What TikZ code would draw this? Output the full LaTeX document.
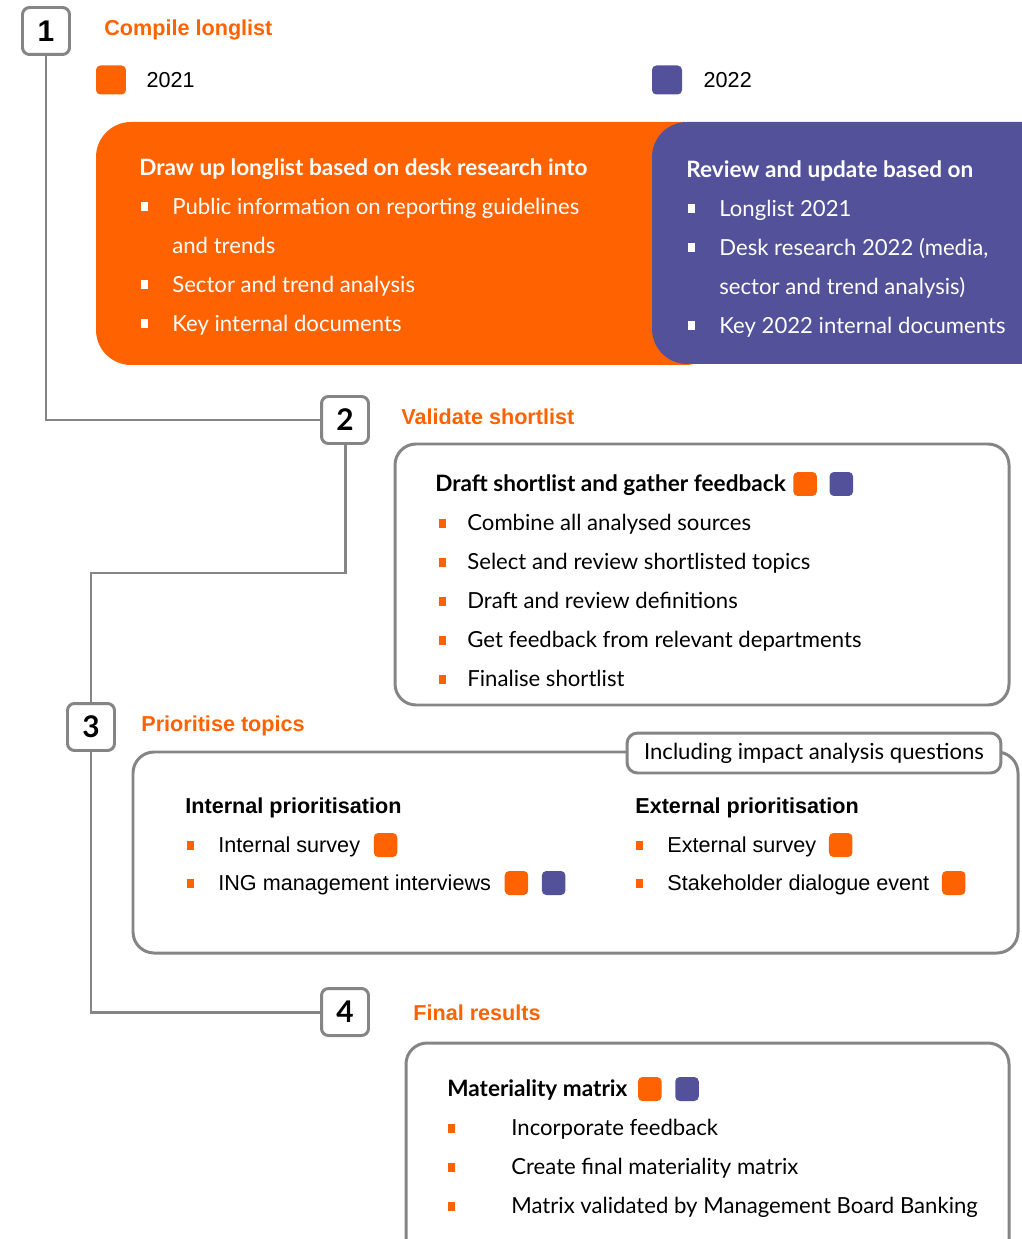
\documentclass[tikz,border=0pt]{standalone}
\usepackage{fontspec}
\setmainfont{Liberation Sans}
\newfontfamily\ingfont{Lato}
\usepackage{xcolor}
\usepackage{tikz}
\usetikzlibrary{positioning}
\definecolor{ingorange}{HTML}{FF6200}
\definecolor{ingpurple}{HTML}{525199}
\definecolor{linegray}{HTML}{858585}
\begin{document}
\begin{tikzpicture}[x=0.02cm, y=-0.02cm,
                    every node/.append style = {inner sep=0pt, font=\fontsize{12.3}{14}\selectfont},
                    stepno/.style = {draw=linegray, line width=1.7pt, rounded corners=4pt, fill=white,
                                     minimum size=0.94cm, font=\fontsize{17}{20}\selectfont\bfseries},
                    link/.style = {draw=linegray, line width=1.7pt},
                    panel/.style = {draw=linegray, line width=1.7pt, rounded corners=12pt},
                    plain/.style = {anchor=west, text height=1.0em, text depth=0.2em},
                    heading/.style = {plain, text=ingorange, font=\fontsize{12.3}{14}\selectfont\bfseries},
                    item/.style = {plain, font=\ingfont\fontsize{12.6}{14}\selectfont},
                    itemhead/.style = {plain, font=\ingfont\fontsize{12.85}{14}\selectfont\bfseries},
                    chip/.style = {fill=#1, rounded corners=2.5pt, minimum width=0.47cm, minimum height=0.48cm},
                    blt/.style = {fill=#1, minimum width=0.14cm, minimum height=0.18cm}]
    \useasboundingbox (0,0) rectangle (1021,1239);

    % step numbers and the line between them
    \node[stepno] (n1) at (46,31) {1};
    \node[stepno, font=\ingfont\fontsize{17}{20}\selectfont\bfseries] (n2) at (345,420) {2};
    \node[stepno, font=\ingfont\fontsize{17}{20}\selectfont\bfseries] (n3) at (91,727) {3};
    \node[stepno, font=\ingfont\fontsize{17}{20}\selectfont\bfseries] (n4) at (345,1012) {4};
    \coordinate (k2) at (91,573);
    \draw[link] (n1.south) |- (n2.west);
    \draw[link] (n2.south) |- (k2) -- (n3.north);
    \draw[link] (n3.south) |- (n4.west);

    \node[heading] (h1) at (104,28) {Compile longlist};
    \node[heading] (h2) at (401,417) {Validate shortlist};
    \node[heading] (h3) at (141,724) {Prioritise topics};
    \node[heading] (h4) at (413,1013) {Final results};

    % step 1
    \node[chip=ingorange, minimum width=0.6cm, minimum height=0.58cm] (c21) at (111,80) {};
    \node[plain, right=0.4cm of c21] (y21) {2021};
    \node[chip=ingpurple, minimum width=0.6cm, minimum height=0.58cm] (c22) at (667,80) {};
    \node[plain, right=0.42cm of c22] (y22) {2022};
    \fill[ingorange, rounded corners=20pt] (96,122) rectangle (720,365);
    \fill[ingpurple, rounded corners=20pt] (652,122) rectangle (1060,364);
    \node[itemhead, text=white] (o0) at (139,168) {Draw up longlist based on desk research into};
    \foreach \t [count=\i] in {Public information on reporting guidelines, and trends,
                               Sector and trend analysis, Key internal documents}
        \node[item, text=white] (o\i) at (172,168+39*\i) {\t};
    \foreach \i in {1,3,4}
        \node[blt=white] at (144,168+39*\i) {};
    \node[itemhead, text=white] (p0) at (686,170) {Review and update based on};
    \foreach \t [count=\i] in {Longlist 2021, {Desk research 2022 (media,},
                               sector and trend analysis), Key 2022 internal documents}
        \node[item, text=white] (p\i) at (719,170+39*\i) {\t};
    \foreach \i in {1,2,4}
        \node[blt=white] at (691,170+39*\i) {};

    % step 2
    \draw[panel] (395,444) rectangle (1009,705);
    \node[itemhead] (s0) at (435,484) {Draft shortlist and gather feedback};
    \node[chip=ingorange, right=0.14cm of s0] (s0a) {};
    \node[chip=ingpurple, right=0.24cm of s0a] (s0b) {};
    \foreach \t [count=\i] in {Combine all analysed sources, Select and review shortlisted topics,
                               Draft and review definitions, Get feedback from relevant departments,
                               Finalise shortlist} {
        \node[item] (s\i) at (467,484+39*\i) {\t};
        \node[blt=ingorange] at (442,484+39*\i) {};
    }

    % step 3
    \draw[panel] (133,752) rectangle (1018,953);
    \node[draw=linegray, line width=1.7pt, rounded corners=6pt, fill=white, minimum width=7.48cm,
          minimum height=0.8cm, font=\ingfont\fontsize{12.6}{14}\selectfont] (tag) at (814,753)
          {Including impact analysis questions};
    \node[plain, font=\fontsize{12.3}{14}\selectfont\bfseries] (ip) at (185,806) {Internal prioritisation};
    \node[plain] (ip1) at (218,845) {Internal survey};
    \node[plain] (ip2) at (218,883) {ING management interviews};
    \node[plain, font=\fontsize{12.3}{14}\selectfont\bfseries] (ep) at (635,806) {External prioritisation};
    \node[plain] (ep1) at (667,845) {External survey};
    \node[plain] (ep2) at (667,883) {Stakeholder dialogue event};
    \foreach \x in {190,639}
        \foreach \y in {845,883}
            \node[blt=ingorange] at (\x,\y) {};
    \node[chip=ingorange, right=0.26cm of ip1] (ip1a) {};
    \node[chip=ingorange, right=0.26cm of ip2] (ip2a) {};
    \node[chip=ingpurple, right=0.26cm of ip2a] (ip2b) {};
    \node[chip=ingorange, right=0.24cm of ep1] (ep1a) {};
    \node[chip=ingorange, right=0.24cm of ep2] (ep2a) {};

    % step 4
    \draw[panel] (406,1043) rectangle (1009,1270);
    \node[itemhead] (m0) at (447,1089) {Materiality matrix};
    \node[chip=ingorange, right=0.2cm of m0] (m0a) {};
    \node[chip=ingpurple, right=0.26cm of m0a] (m0b) {};
    \foreach \t [count=\i] in {Incorporate feedback, Create final materiality matrix,
                               Matrix validated by Management Board Banking} {
        \node[item] (m\i) at (511,1089+39*\i) {\t};
        \node[blt=ingorange] at (451,1089+39*\i) {};
    }
\end{tikzpicture}
\end{document}
